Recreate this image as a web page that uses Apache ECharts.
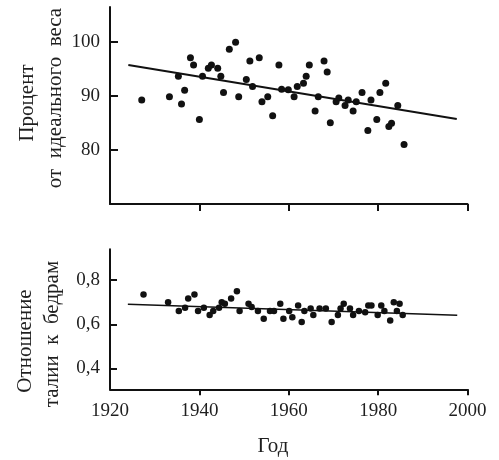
<!DOCTYPE html>
<html>
<head>
<meta charset="utf-8">
<script src="https://cdn.jsdelivr.net/npm/echarts@6/dist/echarts.min.js"></script>
<style>
html,body{margin:0;padding:0;background:#fff;}
#chart{width:499px;height:460px;}
</style>
</head>
<body>
<div id="chart"></div>
<script>
// ---- Data ----
var xTicks = [1920, 1940, 1960, 1980, 2000];
var weightTicks = [80, 90, 100];
var ratioTicks = [0.4, 0.6, 0.8];

var weightYears = [1927.1,1933.3,1935.3,1936.0,1936.7,1938.0,1938.7,1940.0,1940.7,1942.0,1942.7,1944.1,1944.8,1945.4,1946.7,1948.1,1948.8,1950.5,1951.3,1951.9,1953.4,1954.0,1955.3,1956.4,1957.8,1958.4,1959.9,1961.2,1961.9,1963.3,1963.9,1964.6,1965.9,1966.6,1967.9,1968.6,1969.3,1970.6,1971.2,1972.6,1973.3,1974.4,1975.1,1976.4,1977.7,1978.4,1979.7,1980.4,1981.7,1982.4,1983.0,1984.4,1985.8];
var weightValues = [89.2,89.8,93.6,88.5,91.0,97.0,95.7,85.6,93.6,95.1,95.7,95.1,93.6,90.6,98.6,99.9,89.8,93.0,96.4,91.7,97.0,88.9,89.8,86.3,95.7,91.2,91.1,89.8,91.7,92.3,93.6,95.7,87.2,89.8,96.4,94.4,85.0,88.9,89.6,88.2,89.2,87.2,88.9,90.6,83.6,89.2,85.6,90.6,92.3,84.3,84.9,88.2,81.0];
var weightTrend = [[1924.1, 95.7], [1997.6, 85.7]];

var ratioYears = [1927.5,1933.0,1935.4,1936.8,1937.5,1938.9,1939.7,1941.0,1942.3,1943.1,1944.4,1945.0,1945.7,1947.1,1948.4,1949.0,1951.0,1951.7,1953.1,1954.4,1955.8,1956.7,1958.1,1958.8,1960.1,1960.8,1962.1,1962.9,1963.5,1964.9,1965.5,1966.9,1968.3,1969.6,1971.0,1971.6,1972.3,1973.7,1974.4,1975.7,1977.1,1977.8,1978.5,1979.9,1980.7,1981.4,1982.7,1983.5,1984.2,1984.8,1985.5];
var ratioValues = [0.735,0.700,0.660,0.675,0.717,0.735,0.660,0.675,0.642,0.660,0.675,0.700,0.693,0.717,0.750,0.660,0.693,0.678,0.660,0.625,0.660,0.660,0.693,0.625,0.660,0.632,0.685,0.610,0.660,0.672,0.642,0.672,0.672,0.610,0.642,0.672,0.693,0.672,0.642,0.660,0.654,0.685,0.685,0.642,0.685,0.660,0.617,0.700,0.660,0.693,0.642];
var ratioTrend = [[1924.0, 0.691], [1997.7, 0.641]];

var topTitle = ['Процент', 'от  идеального  веса'];
var bottomTitle = ['Отношение', 'талии  к  бедрам'];
var xName = 'Год';

// ---- Build ----
function pairs(xs, ys){ return xs.map(function(x,i){ return [x, ys[i]]; }); }
var FONT = 'Liberation Serif';
var TXT = '#1f1f1f';
var TITLE_FONT = '21px "Liberation Serif"';
var axisLine = {show:true, onZero:false, lineStyle:{color:'#111', width:2}};

var chart = echarts.init(document.getElementById('chart'));
chart.setOption({
  backgroundColor:'#fff',
  animation:false,
  grid:[
    {left:110, right:31.5, top:7, height:197},
    {left:110, right:31.5, top:249.3, height:140}
  ],
  xAxis:[
    {gridIndex:0, type:'value', min:1920, max:2000, interval:20,
     axisLine:axisLine, splitLine:{show:false},
     axisTick:{show:true, inside:false, length:7, lineStyle:{color:'#111', width:2}, customValues:xTicks.slice(1)},
     axisLabel:{show:false}},
    {gridIndex:1, type:'value', min:1920, max:2000, interval:20,
     axisLine:axisLine, splitLine:{show:false},
     axisTick:{show:true, inside:false, length:6, lineStyle:{color:'#111', width:2}, customValues:xTicks.slice(1)},
     axisLabel:{show:true, customValues:xTicks, margin:12, fontFamily:FONT, fontSize:19, color:TXT,
       formatter:function(v){ return String(Math.round(v)); }}}
  ],
  yAxis:[
    {gridIndex:0, type:'value', min:70, max:106.4,
     axisLine:axisLine, splitLine:{show:false},
     axisTick:{show:true, inside:true, length:8, lineStyle:{color:'#111', width:2}, customValues:weightTicks},
     axisLabel:{show:true, customValues:weightTicks, margin:10, fontFamily:FONT, fontSize:19, color:TXT,
       formatter:function(v){ return String(Math.round(v)); }}},
    {gridIndex:1, type:'value', min:0.305, max:0.94,
     axisLine:axisLine, splitLine:{show:false},
     axisTick:{show:true, inside:true, length:7, lineStyle:{color:'#111', width:2}, customValues:ratioTicks},
     axisLabel:{show:true, customValues:ratioTicks, margin:10, fontFamily:FONT, fontSize:19, color:TXT,
       formatter:function(v){ return v.toFixed(1).replace('.', ','); }}}
  ],
  series:[
    {type:'scatter', xAxisIndex:0, yAxisIndex:0, data:pairs(weightYears, weightValues),
     symbolSize:7, itemStyle:{color:'#111', opacity:1}},
    {type:'line', xAxisIndex:0, yAxisIndex:0, data:weightTrend, symbol:'none',
     lineStyle:{color:'#111', width:2}},
    {type:'scatter', xAxisIndex:1, yAxisIndex:1, data:pairs(ratioYears, ratioValues),
     symbolSize:6.5, itemStyle:{color:'#111', opacity:1}},
    {type:'line', xAxisIndex:1, yAxisIndex:1, data:ratioTrend, symbol:'none',
     lineStyle:{color:'#111', width:1.6}}
  ],
  graphic:[
    {type:'text', x:27, y:103, rotation:Math.PI/2,
     style:{text:topTitle[0], font:TITLE_FONT, fill:TXT, textAlign:'center', textVerticalAlign:'middle'}},
    {type:'text', x:55, y:98, rotation:Math.PI/2,
     style:{text:topTitle[1], font:TITLE_FONT, fill:TXT, textAlign:'center', textVerticalAlign:'middle'}},
    {type:'text', x:25, y:341, rotation:Math.PI/2,
     style:{text:bottomTitle[0], font:TITLE_FONT, fill:TXT, textAlign:'center', textVerticalAlign:'middle'}},
    {type:'text', x:52, y:334, rotation:Math.PI/2,
     style:{text:bottomTitle[1], font:TITLE_FONT, fill:TXT, textAlign:'center', textVerticalAlign:'middle'}},
    {type:'text', x:273, y:446,
     style:{text:xName, font:TITLE_FONT, fill:TXT, textAlign:'center', textVerticalAlign:'middle'}}
  ]
});
</script>
</body>
</html>
